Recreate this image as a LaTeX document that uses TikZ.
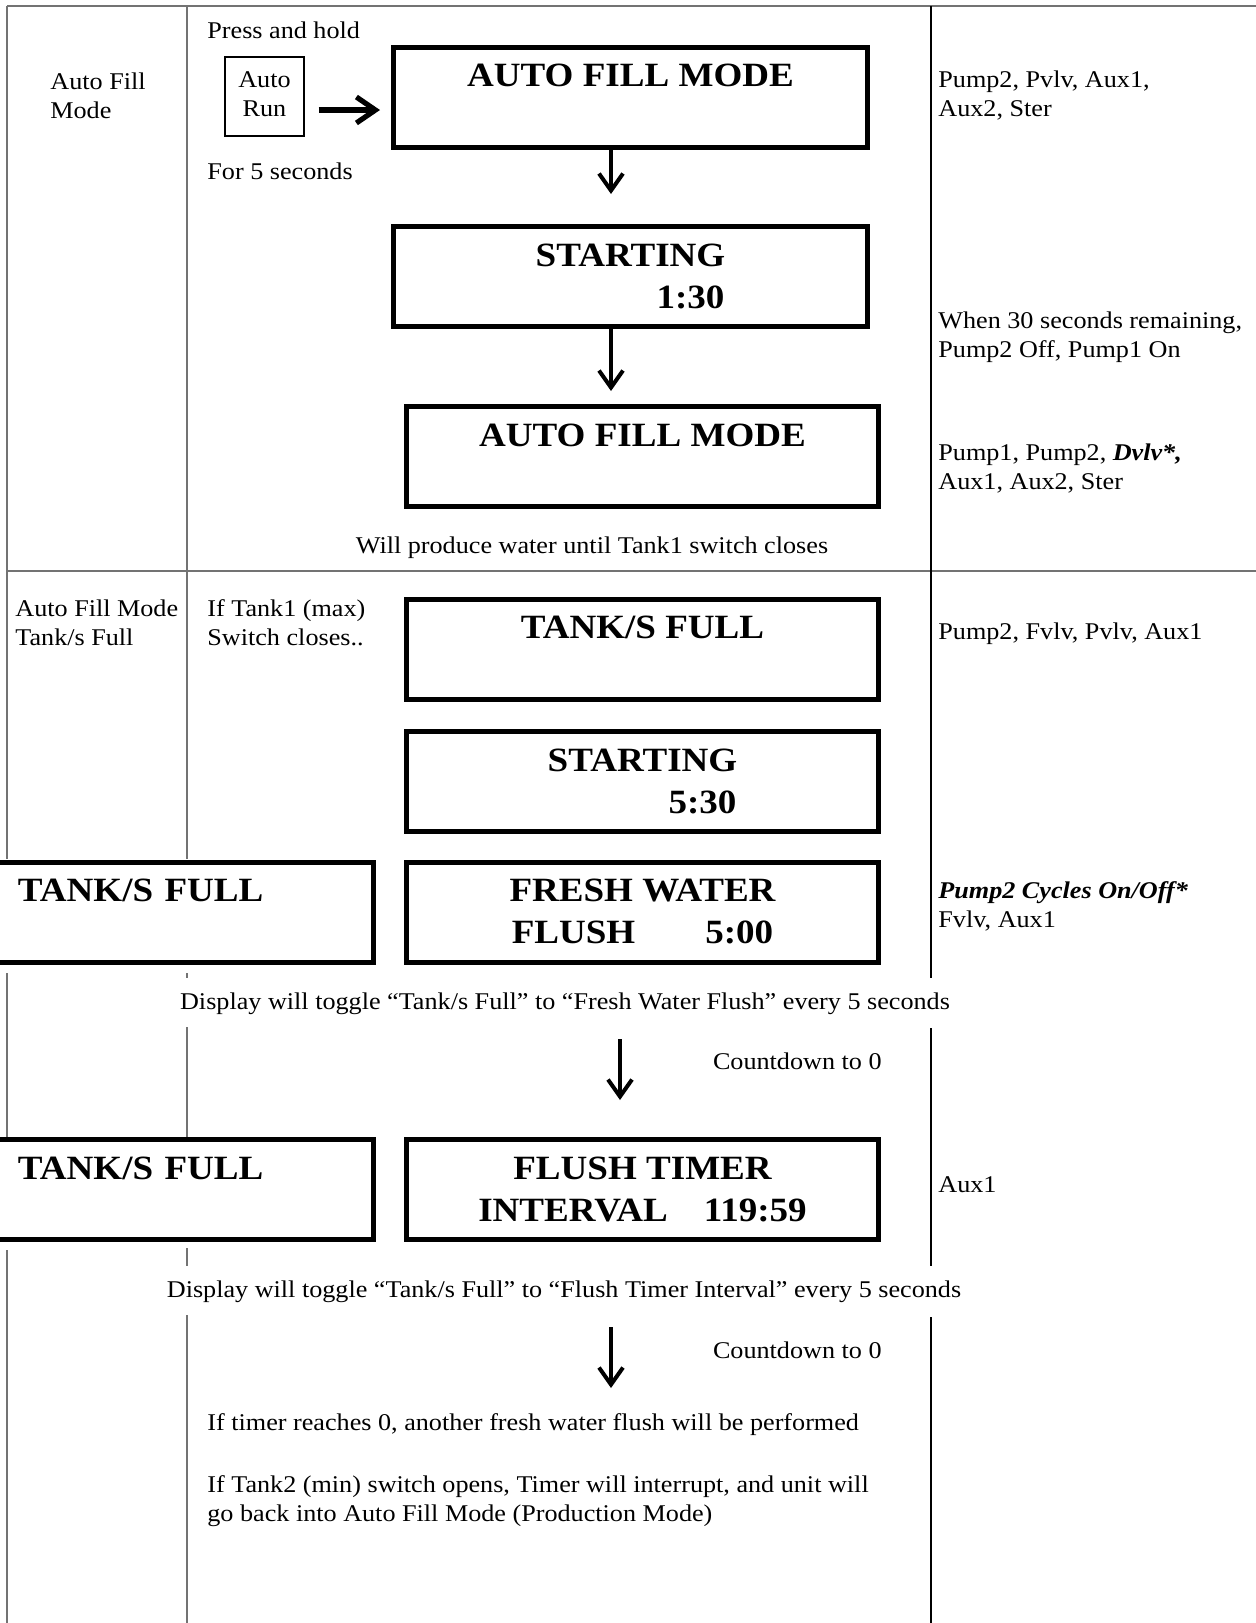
\documentclass[tikz,border=0pt]{standalone}
\usepackage{fontspec}
\setmainfont{Liberation Serif}[FakeStretch=1.09]
\usetikzlibrary{arrows.meta}
\tikzset{>={Straight Barb[length=8.5pt,width=12pt]}}
\definecolor{rulegray}{gray}{0.45}
\newcommand{\boxfont}{\fontsize{17}{21}\selectfont\bfseries}
\newcommand{\txtfont}{\fontsize{12}{14.5}\selectfont}
\newcommand{\twolines}[2]{\strut#1\\\strut#2}
\newcommand{\panellines}[2]{\rule{0pt}{17.2pt}#1\\\strut#2}
\tikzstyle{rule}=[rulegray, line width=0.75pt]
\tikzstyle{colrule}=[black, line width=1pt]
\tikzstyle{panel}=[draw, line width=2.5pt, minimum width=236pt, minimum height=50pt, inner ysep=1pt, align=center, font=\boxfont]
\tikzstyle{txt}=[anchor=base west, align=left, inner sep=0pt, font=\txtfont]
\tikzstyle{flow}=[->, line width=2pt]
\tikzstyle{bigflow}=[->, line width=2.6pt, >={Straight Barb[length=9.5pt,width=13pt]}]

\begin{document}
\begin{tikzpicture}[x=0.5pt, y=-0.5pt]
	\useasboundingbox (0,0) rectangle (1255,1623);
	%\draw [help lines, step=100] (0,0) grid (1255,1623);

	% table rules
	\draw[rule] (7,6) -- (1260,6);
	\draw[rule] (7,571) -- (1260,571);
	\draw[rule] (7,6) -- (7,859);
	\draw[rule] (7,973) -- (7,1137);
	\draw[rule] (7,1250) -- (7,1630);
	\draw[rule] (187,6) -- (187,859);
	\draw[rule] (187,973) -- (187,978);
	\draw[rule] (187,1027) -- (187,1137);
	\draw[rule] (187,1248) -- (187,1266);
	\draw[rule] (187,1315) -- (187,1630);
	\draw[colrule] (931,6) -- (931,978);
	\draw[colrule] (931,1028) -- (931,1266);
	\draw[colrule] (931,1317) -- (931,1630);

	% first row (multi-line texts sit on their last baseline)
	\node[txt] (modetitle) at (50,118) {Auto Fill\\Mode};
	\node[txt] (press) at (207,38) {Press and hold};
	\node[draw, line width=1pt, minimum width=39.5pt, minimum height=39.5pt, inner sep=0pt, align=center, font=\txtfont] (autorun) at (264.5,96.5) {\twolines{Auto}{Run}};
	\node[txt] (hold) at (207,179) {For 5 seconds};

	\node[panel, minimum width=237pt] (modeA) at (630.5,97) {\panellines{AUTO FILL MODE}{}};
	\node[panel, minimum width=237pt] (startA) at (630.5,276.5) {\panellines{STARTING}{\hspace*{60pt}1:30}};
	\node[panel] (modeB) at (642.5,456.5) {\panellines{AUTO FILL MODE}{}};

	\draw[bigflow, shorten <=6.75pt, shorten >=5.5pt] ([yshift=-6.75pt]autorun.east) -- ([yshift=-6.75pt]autorun.east -| modeA.west);
	\draw[flow, shorten >=15pt] ([xshift=-9.75pt]modeA.south) -- ([xshift=-9.75pt]startA.north);
	\draw[flow, shorten >=6.5pt] ([xshift=-9.75pt]startA.south) -- ([xshift=-9.75pt]startA.south |- modeB.north);

	\node[txt] (outA) at (938,116) {Pump2, Pvlv, Aux1,\\Aux2, Ster};
	\node[txt] (outB) at (938,357) {When 30 seconds remaining,\\Pump2 Off, Pump1 On};
	\node[txt] (outC) at (938,489) {Pump1, Pump2, \textbf{\textit{Dvlv*,}}\\Aux1, Aux2, Ster};
	\node[txt, anchor=base] (produce) at (592,553) {Will produce water until Tank1 switch closes};

	% second row
	\node[txt] (fulltitle) at (15,645) {Auto Fill Mode\\Tank/s Full};
	\node[txt] (cond) at (207,645) {If Tank1 (max)\\Switch closes..};

	\node[panel] (fullA) at (642.5,649) {\panellines{TANK/S FULL}{}};
	\node[panel] (startB) at (642.5,781.5) {\panellines{STARTING}{\hspace*{60pt}5:30}};
	\node[panel] (fresh) at (642.5,912) {\panellines{FRESH WATER}{FLUSH\hspace{35pt}5:00}};
	\node[panel, minimum width=206.75pt, text width=148.75pt, inner xsep=29pt, align=left] (fullL1) at (166.75,912) {\panellines{TANK/S FULL}{}};

	\node[txt] (outD) at (938,639) {Pump2, Fvlv, Pvlv, Aux1};
	\node[txt] (outE) at (938,927) {\textbf{\textit{Pump2 Cycles On/Off*}}\\Fvlv, Aux1};

	\node[txt, anchor=base] (toggleA) at (565,1009) {Display will toggle “Tank/s Full” to “Fresh Water Flush” every 5 seconds};

	\coordinate (cdA) at (620,1039);
	\node[txt, anchor=base east] (countA) at (882,1069) {Countdown to 0};

	\node[panel] (timer) at (642.5,1189.5) {\panellines{FLUSH TIMER}{INTERVAL\hspace{18pt}119:59}};
	\node[panel, minimum width=206.75pt, text width=148.75pt, inner xsep=29pt, align=left] (fullL2) at (166.75,1189.5) {\panellines{TANK/S FULL}{}};
	\draw[flow, shorten >=18.5pt] (cdA) -- (cdA |- timer.north);

	\node[txt] (outF) at (938,1192) {Aux1};

	\node[txt, anchor=base] (toggleB) at (564,1297) {Display will toggle “Tank/s Full” to “Flush Timer Interval” every 5 seconds};

	\coordinate (cdB) at (611,1327);
	\coordinate (cdBend) at (611,1388);
	\draw[flow] (cdB) -- (cdBend);
	\node[txt, anchor=base east] (countB) at (882,1358) {Countdown to 0};

	\node[txt] (again) at (207,1430) {If timer reaches 0, another fresh water flush will be performed};
	\node[txt] (back) at (207,1521) {If Tank2 (min) switch opens, Timer will interrupt, and unit will\\go back into Auto Fill Mode (Production Mode)};
\end{tikzpicture}
\end{document}
